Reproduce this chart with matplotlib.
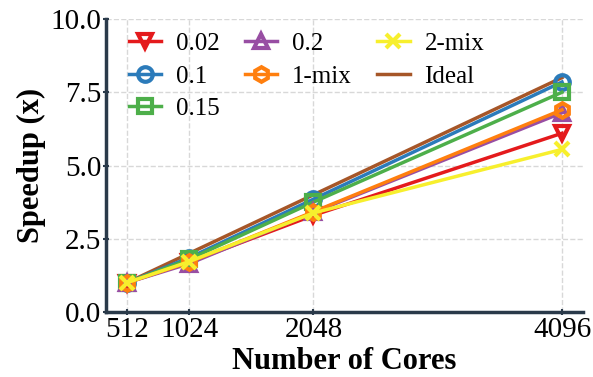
import matplotlib
matplotlib.use("Agg")
import matplotlib.pyplot as plt

plt.rcParams['font.family'] = ['Liberation Serif', 'DejaVu Serif']

cores = [512, 1024, 2048, 4096]
labels = ['0.02', '0.1', '0.15', '0.2', '1-mix', '2-mix', 'Ideal']
s_002 = [1.0, 1.70, 3.30, 6.10]
s_01 = [1.0, 1.85, 3.85, 7.85]
s_015 = [1.0, 1.80, 3.75, 7.50]
s_02 = [1.0, 1.65, 3.40, 6.80]
s_1mix = [1.0, 1.70, 3.42, 6.90]
s_2mix = [1.0, 1.72, 3.38, 5.55]
s_ideal = [1.0, 2.0, 4.0, 8.0]
series = [s_002, s_01, s_015, s_02, s_1mix, s_2mix, s_ideal]
colors = ['#e41a1c', '#2b7bba', '#4daf4a', '#984ea3', '#ff7f0e', '#f7ef2d', '#a65628']
markers = ['v', 'o', 's', '^', 'h', 'x', None]
xticks = [512, 1024, 2048, 4096]
yticks = [0.0, 2.5, 5.0, 7.5, 10.0]

fig = plt.figure(figsize=(5.93, 3.77), dpi=100)
ax = fig.add_axes([106/593, (377-312)/377, (583-106)/593, (312-19)/377])

for lab, vals, c, m in zip(labels, series, colors, markers):
    if m is None:
        ax.plot(cores, vals, color=c, lw=2.5, label=lab, zorder=2)
    else:
        ax.plot(cores, vals, color=c, lw=2.5, marker=m, markersize=10.5,
                markerfacecolor='none', markeredgecolor=c,
                markeredgewidth=3, label=lab, zorder=3)

ax.set_xlim(339, 4269)
ax.set_ylim(0, 10)
ax.set_xticks(xticks)
ax.set_xticklabels([str(x) for x in xticks], fontsize=21)
ax.set_yticks(yticks)
ax.set_yticklabels([f'{y:.1f}' for y in yticks], fontsize=21)
ax.grid(True, linestyle='--', color='#d8d8d8', lw=1)
ax.set_axisbelow(True)
for s in ['top', 'right']:
    ax.spines[s].set_visible(False)
for s in ['left', 'bottom']:
    ax.spines[s].set_color('#2a3a4a')
    ax.spines[s].set_linewidth(2.5)
ax.tick_params(color='#2a3a4a', width=1.5, length=5, direction='inout', pad=1)
ax.set_xlabel('Number of Cores', fontsize=22, fontweight='bold', labelpad=3)
ax.set_ylabel('Speedup (x)', fontsize=22, fontweight='bold', labelpad=3)
ax.legend(ncol=3, frameon=False, fontsize=18, loc='upper left',
          bbox_to_anchor=(0.0, 1.03), handlelength=1.3, columnspacing=1.0,
          labelspacing=0.4, handletextpad=0.6, borderaxespad=0.5)

fig.savefig('out.png', dpi=100)
